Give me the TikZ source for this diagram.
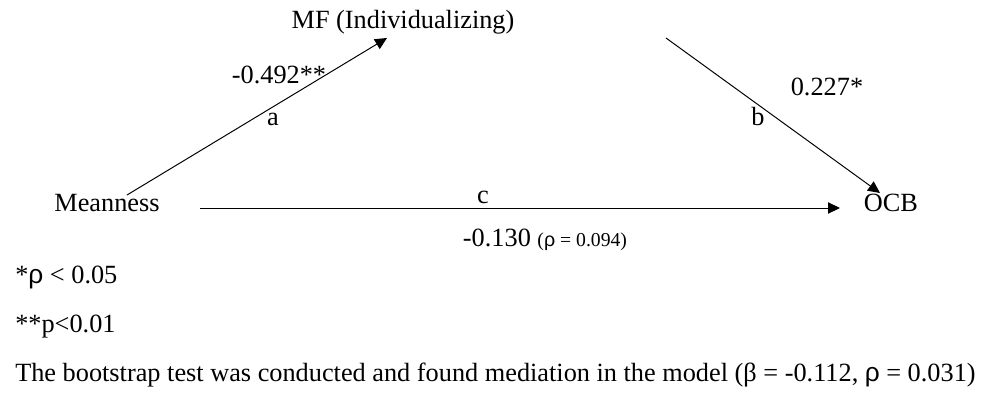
\documentclass[tikz,border=0pt]{standalone}
\usepackage{fontspec}
\setmainfont{Liberation Serif}
\newfontfamily\rhofont{Liberation Sans}
\usetikzlibrary{arrows.meta, calc}

\newcommand{\rh}{{\rhofont ρ}}

\begin{document}
\begin{tikzpicture}[
  x=0.025cm, y=-0.025cm,
  font=\fontsize{18.7}{22}\selectfont,
  var/.style  = {inner sep=0pt, anchor=base},
  lbl/.style  = {inner sep=0pt, anchor=base},
  note/.style = {inner sep=0pt, anchor=base west},
  arr/.style  = {-{Triangle[length=8.5pt, width=8pt]}, black, line width=0.7pt}
]
\useasboundingbox (0,0) rectangle (988,395);

\node[var] (mean) at (107,211) {Meanness};
\node[var] (mf)   at (403,28)  {MF (Individualizing)};
\node[var] (ocb)  at (891,211) {OCB};

% path labels
\node[lbl] (coefa) at (279,83)  {-0.492**};
\node[lbl] (pa)    at (273,125) {a};
\node[lbl] (coefb) at (827,95)  {0.227*};
\node[lbl] (pb)    at (758,125) {b};
\node[lbl] (pc)    at (483,203) {c};
\node[lbl] (coefc) at (545,246) {-0.130 {\fontsize{14}{16}\selectfont(\rh{} = 0.094)}};

% notes
\node[note] (n1) at (15,283) {*\rh{} < 0.05};
\node[note] (n2) at (15,332) {**p<0.01};
\node[note] (n3) at (15,381) {The bootstrap test was conducted and found mediation in the model (β = -0.112, \rh{} = 0.031)};

\draw[arr] ($(mean.base)+(20,-16)$) -- ($(mf.base)+(-16,10)$);
\draw[arr] ($(mf.base)+(263,10)$)   -- ($(ocb.base)+(-11,-18)$);
\draw[arr] ($(mean.base)+(93,-3)$)  -- ($(ocb.base)+(-51,-3)$);

\end{tikzpicture}
\end{document}
